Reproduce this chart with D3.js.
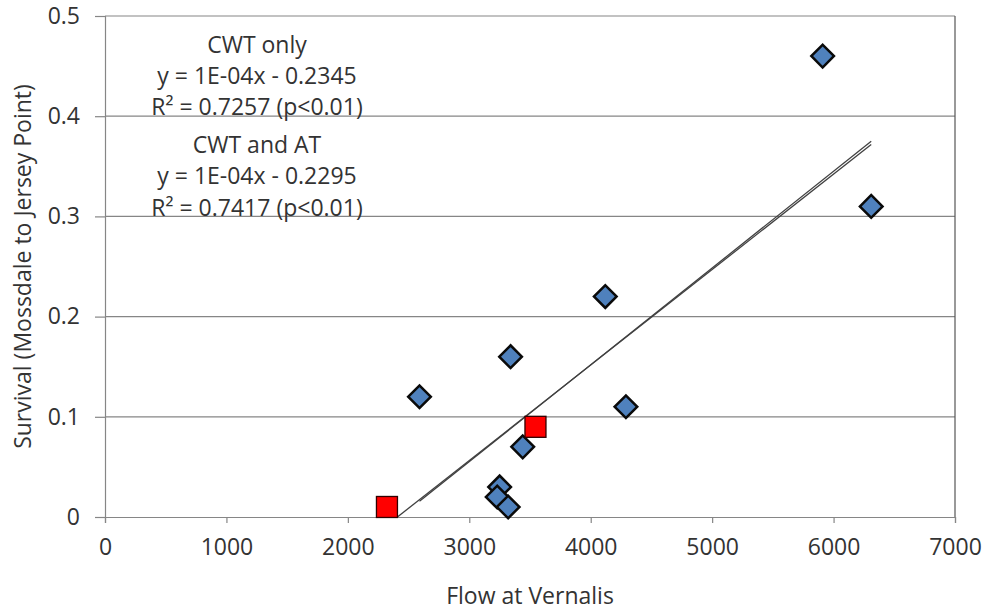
<!DOCTYPE html>
<html>
<head>
<meta charset="utf-8">
<script src="https://cdn.jsdelivr.net/npm/d3@7/dist/d3.min.js"></script>
<style>
  html, body { margin: 0; padding: 0; background: #fff; }
  svg { display: block; }
  text { font-family: "Open Sans", sans-serif; fill: #333; }
</style>
</head>
<body>
<svg id="chart" width="989" height="611"></svg>
<script>
// ---- data ----
const cwtFlow     = [5910, 6310, 4120, 3340, 2590, 4290, 3440, 3250, 3230, 3320];
const cwtSurvival = [0.46, 0.31, 0.22, 0.16, 0.12, 0.11, 0.07, 0.03, 0.02, 0.01];
const atFlow      = [2322, 3545];
const atSurvival  = [0.01, 0.09];
const trendNames      = ["CWT only", "CWT and AT"];
const trendSlopes     = [9.66e-5, 9.53e-5];
const trendIntercepts = [-0.2345, -0.2295];
const trendLabels = [
  ["CWT only", "y = 1E-04x - 0.2345", "R² = 0.7257 (p<0.01)"],
  ["CWT and AT", "y = 1E-04x - 0.2295", "R² = 0.7417 (p<0.01)"]
];
const xTicks = [0, 1000, 2000, 3000, 4000, 5000, 6000, 7000];
const yTicks = [0, 0.1, 0.2, 0.3, 0.4, 0.5];
const xTitle = "Flow at Vernalis";
const yTitle = "Survival (Mossdale to Jersey Point)";

(function () {
// ---- layout ----
const svg = d3.select("#chart");
const pL = 105, pR = 955, pT = 16, pB = 517;
const x = d3.scaleLinear().domain([0, 7000]).range([pL, pR]);
const y = d3.scaleLinear().domain([0, 0.5]).range([pB, pT]);

// gridlines
svg.append("g").selectAll("line").data(yTicks.filter(d => d > 0)).join("line")
  .attr("x1", pL).attr("x2", pR)
  .attr("y1", d => y(d)).attr("y2", d => y(d))
  .attr("stroke", "#868686").attr("stroke-width", 1.2);

// right border
svg.append("line").attr("x1", pR).attr("x2", pR).attr("y1", pT).attr("y2", pB)
  .attr("stroke", "#555").attr("stroke-width", 1.2);

// x axis
const xAxis = d3.axisBottom(x).tickValues(xTicks).tickFormat(d3.format("d")).tickSizeOuter(0).tickSize(6).tickPadding(16);
const gx = svg.append("g").attr("transform", `translate(0,${pB})`).call(xAxis);
gx.select(".domain").attr("stroke", "#868686").attr("stroke-width", 1.2);
gx.selectAll(".tick line").attr("stroke", "#868686").attr("stroke-width", 1.2);
gx.selectAll("text").style("font-size", "23px").style("font-family", "Open Sans").attr("fill", "#333");

// y axis
const yAxis = d3.axisLeft(y).tickValues(yTicks).tickFormat(d => d === 0 ? "0" : d3.format(".1f")(d)).tickSizeOuter(0).tickSize(10).tickPadding(15);
const gy = svg.append("g").attr("transform", `translate(${pL},0)`).call(yAxis);
gy.select(".domain").attr("stroke", "#868686").attr("stroke-width", 1.2);
gy.selectAll(".tick line").attr("stroke", "#868686").attr("stroke-width", 1.2);
gy.selectAll("text").style("font-size", "23px").style("font-family", "Open Sans").attr("fill", "#333");

// titles
svg.append("text").attr("x", (pL + pR) / 2).attr("y", 604)
  .attr("text-anchor", "middle").style("font-size", "23px").text(xTitle);
svg.append("text").attr("transform", `translate(31,${(pT + pB) / 2}) rotate(-90)`)
  .attr("text-anchor", "middle").style("font-size", "23px").text(yTitle);

// clip
svg.append("clipPath").attr("id", "plotclip").append("rect")
  .attr("x", pL).attr("y", pT).attr("width", pR - pL).attr("height", pB - pT);

// trendlines
const allFlow = cwtFlow.concat(atFlow);
const trendXmin = [d3.min(cwtFlow), d3.min(allFlow)];
const trendXmax = [d3.max(cwtFlow), d3.max(allFlow)];
const tg = svg.append("g").attr("clip-path", "url(#plotclip)");
trendSlopes.forEach((m, i) => {
  const b = trendIntercepts[i];
  const x0 = trendXmin[i], x1 = trendXmax[i];
  tg.append("line")
    .attr("x1", x(x0)).attr("y1", y(m * x0 + b))
    .attr("x2", x(x1)).attr("y2", y(m * x1 + b))
    .attr("stroke", "#404040").attr("stroke-width", 1.3);
});

// diamonds
const diamond = d3.symbol().type(d3.symbolSquare).size(16 * 16);
svg.append("g").selectAll("path").data(cwtFlow.map((f, i) => [f, cwtSurvival[i]])).join("path")
  .attr("d", diamond)
  .attr("transform", d => `translate(${x(d[0])},${y(d[1])}) rotate(45)`)
  .attr("fill", "#4F81BD").attr("stroke", "#0a0a0a").attr("stroke-width", 2.5);

// squares
const sq = 21;
svg.append("g").selectAll("rect").data(atFlow.map((f, i) => [f, atSurvival[i]])).join("rect")
  .attr("x", d => x(d[0]) - sq / 2).attr("y", d => y(d[1]) - sq / 2)
  .attr("width", sq).attr("height", sq)
  .attr("fill", "#FF0000").attr("stroke", "#300000").attr("stroke-width", 1.3);

// annotation
const baselines = [[53, 84, 115], [153, 184, 216]];
trendLabels.forEach((lines, i) => {
  lines.forEach((t, j) => {
    svg.append("text").attr("x", 257).attr("y", baselines[i][j])
      .attr("text-anchor", "middle").style("font-size", "23px").text(t);
  });
});
})();
</script>
</body>
</html>
